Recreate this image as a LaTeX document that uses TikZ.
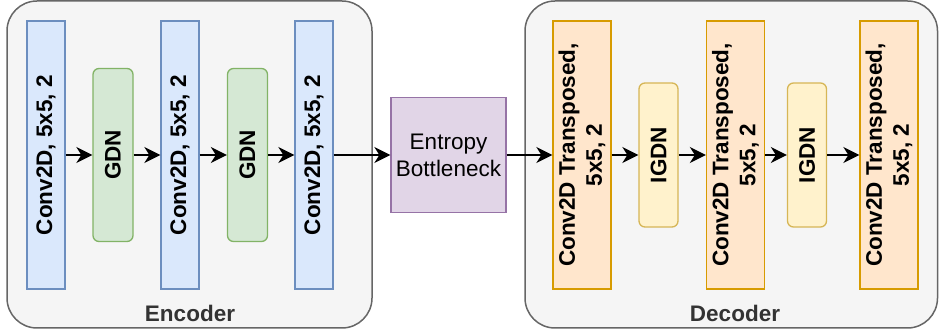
\documentclass[tikz,border=0pt]{standalone}
\usepackage{fontspec}
\setmainfont{Liberation Sans}
\usetikzlibrary{arrows.meta}
\definecolor{grayfill}{HTML}{F5F5F5}
\definecolor{grayline}{HTML}{666666}
\definecolor{labelgray}{HTML}{333333}
\definecolor{bluefill}{HTML}{DAE8FC}
\definecolor{blueline}{HTML}{6C8EBF}
\definecolor{greenfill}{HTML}{D5E8D4}
\definecolor{greenline}{HTML}{82B366}
\definecolor{purplefill}{HTML}{E1D5E7}
\definecolor{purpleline}{HTML}{9673A6}
\definecolor{orangefill}{HTML}{FFE6CC}
\definecolor{orangeline}{HTML}{D79B00}
\definecolor{yellowfill}{HTML}{FFF2CC}
\definecolor{yellowline}{HTML}{D6B656}
\tikzset{
  container/.style={rectangle, draw=grayline, fill=grayfill, line width=1.5pt, rounded corners=30pt, inner sep=0pt},
  boxfont/.style={font=\fontsize{22.5}{27}\selectfont\bfseries},
  conv/.style={rectangle, draw=blueline, fill=bluefill, line width=1.3pt, minimum width=268pt, minimum height=38pt, rotate=90, inner sep=0pt, boxfont},
  gdn/.style={rectangle, draw=greenline, fill=greenfill, line width=1.3pt, rounded corners=6pt, minimum width=173pt, minimum height=40pt, rotate=90, inner sep=0pt, boxfont},
  dconv/.style={rectangle, draw=orangeline, fill=orangefill, line width=1.3pt, minimum width=268pt, minimum height=58pt, rotate=90, inner sep=0pt, align=center, boxfont},
  igdn/.style={rectangle, draw=yellowline, fill=yellowfill, line width=1.3pt, rounded corners=6pt, minimum width=144pt, minimum height=39pt, rotate=90, inner sep=0pt, boxfont},
  entropy/.style={rectangle, draw=purpleline, fill=purplefill, line width=1.3pt, minimum width=115pt, minimum height=115pt, inner sep=0pt, align=center, font=\fontsize{22.5}{27}\selectfont},
  grouplabel/.style={anchor=base, text=labelgray, boxfont},
  arr/.style={line width=1.8pt, -{Stealth[length=16pt, width=16pt, inset=5pt]}}
}
\begin{document}
\begin{tikzpicture}[x=1pt, y=1pt]
\useasboundingbox (0,0) rectangle (939,334);
% containers
\node[container, minimum width=365pt, minimum height=327pt] (enc) at (189.5,169.5) {};
\node[container, minimum width=412.5pt, minimum height=327pt] (dec) at (731.25,169.5) {};
\node[grouplabel] (enclabel) at (190,12) {Encoder};
\node[grouplabel] (declabel) at (735,12) {Decoder};
% encoder
\node[conv] (c1) at (46,179) {Conv2D, 5x5, 2};
\node[gdn] (g1) at (113,179) {GDN};
\node[conv] (c2) at (180,179) {Conv2D, 5x5, 2};
\node[gdn] (g2) at (247.5,179) {GDN};
\node[conv] (c3) at (314,179) {Conv2D, 5x5, 2};
% bottleneck
\node[entropy] (eb) at (448.5,179) {Entropy\\Bottleneck};
% decoder
\node[dconv] (d1) at (582,179) {Conv2D Transposed,\\5x5, 2};
\node[igdn] (i1) at (658.5,179) {IGDN};
\node[dconv] (d2) at (735.5,179) {Conv2D Transposed,\\5x5, 2};
\node[igdn] (i2) at (807,179) {IGDN};
\node[dconv] (d3) at (889,179) {Conv2D Transposed,\\5x5, 2};
% connectors
\draw[arr] (c1) -- (g1);
\draw[arr] (g1) -- (c2);
\draw[arr] (c2) -- (g2);
\draw[arr] (g2) -- (c3);
\draw[arr] (c3) -- (eb);
\draw[arr] (eb) -- (d1);
\draw[arr] (d1) -- (i1);
\draw[arr] (i1) -- (d2);
\draw[arr] (d2) -- (i2);
\draw[arr] (i2) -- (d3);
\end{tikzpicture}
\end{document}
